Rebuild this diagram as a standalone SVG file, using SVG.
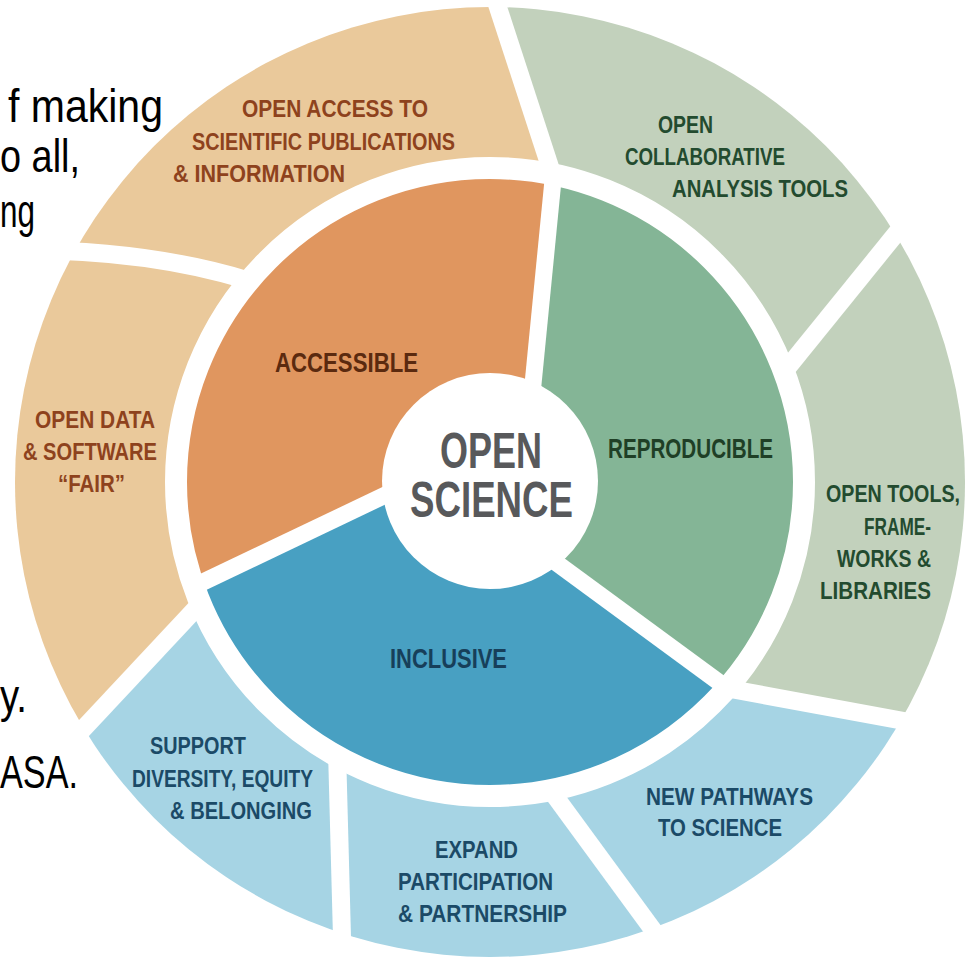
<svg xmlns="http://www.w3.org/2000/svg" width="967" height="959" viewBox="0 0 967 959">
<defs>
<clipPath id="clipOuter"><circle cx="490" cy="482" r="475"/></clipPath>
<clipPath id="clipMid"><circle cx="490" cy="482" r="314"/></clipPath>
<style>
.lbl{font-family:'Liberation Sans Narrow','Liberation Sans',Arial,sans-serif;font-weight:bold;}
.o{font-size:23.5px;}
.m{font-size:28px;}
.c{font-size:50px;fill:#58595B;}
.slide{font-family:'Liberation Sans',Arial,sans-serif;font-size:46px;fill:#000;}
.tanT{fill:#8E421D;}
.grnT{fill:#234B2F;}
.bluT{fill:#1B4A67;}
.sep{stroke:#fff;fill:none;}
</style>
</defs>
<rect width="967" height="959" fill="#fff"/>
<g id="slide-text">
<text class="slide" x="8" y="122" textLength="155" lengthAdjust="spacingAndGlyphs">f making</text>
<text class="slide" x="0" y="172" textLength="80" lengthAdjust="spacingAndGlyphs">o all,</text>
<text class="slide" x="0" y="227" textLength="35" lengthAdjust="spacingAndGlyphs">ng</text>
<text class="slide" x="0" y="712" textLength="27" lengthAdjust="spacingAndGlyphs">y.</text>
<text class="slide" x="0" y="788" textLength="78" lengthAdjust="spacingAndGlyphs">ASA.</text>
</g>
<g id="open-access">
<path clip-path="url(#clipOuter)" fill="#EAC99B" d="M490,482 L260,285 Q150,250 40,250 L129.5,-118 L491,-14 L553,176 Z"/>
<text class="lbl o tanT" x="242" y="117" textLength="186" lengthAdjust="spacingAndGlyphs">OPEN ACCESS TO</text>
<text class="lbl o tanT" x="192" y="150" textLength="263" lengthAdjust="spacingAndGlyphs">SCIENTIFIC PUBLICATIONS</text>
<text class="lbl o tanT" x="173" y="182" textLength="172" lengthAdjust="spacingAndGlyphs">&amp; INFORMATION</text>
</g>
<g id="open-data">
<path clip-path="url(#clipOuter)" fill="#EAC99B" d="M490,482 L200,604 L70,743 L-210,506 L40,250 Q150,250 260,285 Z"/>
<text class="lbl o tanT" x="35" y="428" textLength="120" lengthAdjust="spacingAndGlyphs">OPEN DATA</text>
<text class="lbl o tanT" x="23" y="460" textLength="134" lengthAdjust="spacingAndGlyphs">&amp; SOFTWARE</text>
<text class="lbl o tanT" x="58" y="492" textLength="67" lengthAdjust="spacingAndGlyphs">“FAIR”</text>
</g>
<g id="collab-tools">
<path clip-path="url(#clipOuter)" fill="#C2D1BC" d="M490,482 L553,176 L491,-14 L829,-130 L916,209 L784,372 Z"/>
<text class="lbl o grnT" x="658" y="133" textLength="55" lengthAdjust="spacingAndGlyphs">OPEN</text>
<text class="lbl o grnT" x="625" y="165" textLength="160" lengthAdjust="spacingAndGlyphs">COLLABORATIVE</text>
<text class="lbl o grnT" x="672" y="197" textLength="176" lengthAdjust="spacingAndGlyphs">ANALYSIS TOOLS</text>
</g>
<g id="open-tools">
<path clip-path="url(#clipOuter)" fill="#C2D1BC" d="M490,482 L784,372 L916,209 L1190,458 L942,728 L725,688 Z"/>
<text class="lbl o grnT" x="826" y="502" textLength="134" lengthAdjust="spacingAndGlyphs">OPEN TOOLS,</text>
<text class="lbl o grnT" x="864" y="535" textLength="67" lengthAdjust="spacingAndGlyphs">FRAME-</text>
<text class="lbl o grnT" x="837" y="567" textLength="94" lengthAdjust="spacingAndGlyphs">WORKS &amp;</text>
<text class="lbl o grnT" x="820" y="599" textLength="111" lengthAdjust="spacingAndGlyphs">LIBRARIES</text>
</g>
<g id="new-pathways">
<path clip-path="url(#clipOuter)" fill="#A6D4E4" d="M490,482 L725,688 L942,728 L949,1010 L664,945 L549,788 Z"/>
<text class="lbl o bluT" x="646" y="805" textLength="167" lengthAdjust="spacingAndGlyphs">NEW PATHWAYS</text>
<text class="lbl o bluT" x="658" y="836" textLength="124" lengthAdjust="spacingAndGlyphs">TO SCIENCE</text>
</g>
<g id="expand">
<path clip-path="url(#clipOuter)" fill="#A6D4E4" d="M490,482 L549,788 L664,945 L514,1182 L343,975 L337,750 Z"/>
<text class="lbl o bluT" x="435" y="858" textLength="83" lengthAdjust="spacingAndGlyphs">EXPAND</text>
<text class="lbl o bluT" x="398" y="890" textLength="155" lengthAdjust="spacingAndGlyphs">PARTICIPATION</text>
<text class="lbl o bluT" x="398" y="922" textLength="169" lengthAdjust="spacingAndGlyphs">&amp; PARTNERSHIP</text>
</g>
<g id="support">
<path clip-path="url(#clipOuter)" fill="#A6D4E4" d="M490,482 L337,750 L343,975 L69,1041 L70,743 L200,604 Z"/>
<text class="lbl o bluT" x="150" y="754" textLength="96" lengthAdjust="spacingAndGlyphs">SUPPORT</text>
<text class="lbl o bluT" x="132" y="787" textLength="181" lengthAdjust="spacingAndGlyphs">DIVERSITY, EQUITY</text>
<text class="lbl o bluT" x="170" y="819" textLength="142" lengthAdjust="spacingAndGlyphs">&amp; BELONGING</text>
</g>
<g id="accessible">
<path clip-path="url(#clipMid)" fill="#E0965F" d="M419,479 L172,597 L-2,395 L203,72 L556,150 L529,425 Z"/>
<text class="lbl m" fill="#5B2A0F" x="275" y="372" textLength="143" lengthAdjust="spacingAndGlyphs">ACCESSIBLE</text>
</g>
<g id="reproducible">
<path clip-path="url(#clipMid)" fill="#84B596" d="M529,425 L556,150 L960,311 L742,700 L528,542 Z"/>
<text class="lbl m" fill="#1F3F26" x="608" y="458" textLength="165" lengthAdjust="spacingAndGlyphs">REPRODUCIBLE</text>
</g>
<g id="inclusive">
<path clip-path="url(#clipMid)" fill="#48A0C2" d="M528,542 L742,700 L403,974 L172,597 L419,479 Z"/>
<text class="lbl m" fill="#173F5A" x="390" y="668" textLength="117" lengthAdjust="spacingAndGlyphs">INCLUSIVE</text>
</g>
<g id="separators" class="sep">
<circle cx="490" cy="482" r="314" stroke-width="22"/>
<g stroke-width="18">
<path d="M491,-14 L553,176"/>
<path d="M20,250 Q150,250 250,281"/>
<path d="M70,743 L200,604"/>
<path d="M343,975 L337,750"/>
<path d="M664,945 L549,788"/>
<path d="M942,728 L725,688"/>
<path d="M916,209 L784,372"/>
</g>
<g stroke-width="17">
<path d="M554,170 L529,425"/>
<path d="M190.5,588 L419,479"/>
<path d="M729.5,690 L528,542"/>
</g>
</g>
<g id="open-science">
<circle cx="490" cy="481" r="108" fill="#fff"/>
<text class="lbl c" x="440" y="468" textLength="102" lengthAdjust="spacingAndGlyphs">OPEN</text>
<text class="lbl c" x="410" y="517" textLength="163" lengthAdjust="spacingAndGlyphs">SCIENCE</text>
</g>
</svg>
